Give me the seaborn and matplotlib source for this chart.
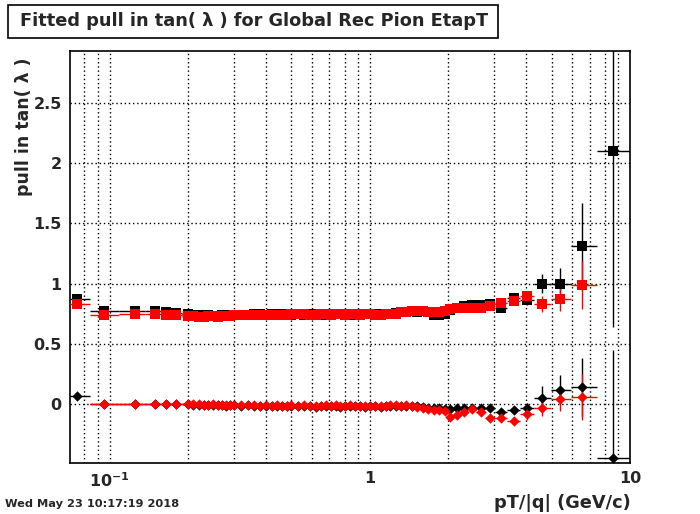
import numpy as np
import matplotlib
matplotlib.use("Agg")
import matplotlib.pyplot as plt
import matplotlib.ticker as mticker
from matplotlib.patches import Rectangle
import seaborn as sns

# pT/|q| bin centres (GeV/c)
pt = [0.075, 0.095, 0.125, 0.15, 0.165, 0.18, 0.2,
      0.21, 0.22, 0.23, 0.24, 0.25, 0.26, 0.27, 0.28, 0.29, 0.30,
      0.32, 0.34, 0.36, 0.38, 0.40, 0.42, 0.44, 0.46, 0.48, 0.50,
      0.53, 0.56, 0.59, 0.62, 0.65, 0.68, 0.71, 0.74, 0.77, 0.80, 0.84, 0.88, 0.92, 0.96, 1.00,
      1.05, 1.10, 1.15, 1.20, 1.26, 1.32, 1.38, 1.45, 1.52, 1.60, 1.68, 1.76, 1.85, 1.94,
      2.03, 2.16, 2.30, 2.47, 2.67, 2.89, 3.19, 3.58, 4.01, 4.59, 5.38, 6.54, 8.6]

# width of the fitted pull (squares)
width_black = [0.87, 0.77, 0.775, 0.77, 0.765, 0.755, 0.745,
               0.74, 0.74, 0.735, 0.735, 0.73, 0.73, 0.735, 0.73, 0.735, 0.735,
               0.74, 0.74, 0.745, 0.745, 0.74, 0.745, 0.74, 0.745, 0.745, 0.74,
               0.745, 0.74, 0.745, 0.745, 0.74, 0.745, 0.745, 0.75, 0.745, 0.745, 0.745, 0.74, 0.745, 0.75, 0.745,
               0.745, 0.75, 0.745, 0.75, 0.755, 0.76, 0.765, 0.77, 0.765, 0.775, 0.76, 0.735, 0.74, 0.745,
               0.78, 0.80, 0.81, 0.82, 0.82, 0.83, 0.80, 0.88, 0.865, 1.00, 0.995, 1.31, 2.10]
width_black_err = [0.01] * 56 + [0.02, 0.02, 0.02, 0.02, 0.025, 0.03, 0.03, 0.035, 0.04, 0.08, 0.13, 0.36, 1.46]

width_red = [0.83, 0.74, 0.745, 0.745, 0.74, 0.735, 0.73,
             0.73, 0.725, 0.725, 0.73, 0.73, 0.725, 0.73, 0.73, 0.73, 0.735,
             0.735, 0.74, 0.74, 0.735, 0.74, 0.74, 0.735, 0.74, 0.74, 0.745,
             0.745, 0.745, 0.74, 0.74, 0.745, 0.745, 0.74, 0.745, 0.745, 0.74, 0.745, 0.745, 0.74, 0.745, 0.745,
             0.74, 0.74, 0.745, 0.745, 0.75, 0.76, 0.765, 0.77, 0.775, 0.77, 0.765, 0.765, 0.765, 0.775,
             0.79, 0.795, 0.80, 0.80, 0.80, 0.81, 0.84, 0.855, 0.90, 0.83, 0.87, 0.985, np.nan]
width_red_err = [0.01] * 56 + [0.02, 0.02, 0.02, 0.02, 0.025, 0.03, 0.03, 0.035, 0.04, 0.07, 0.10, 0.20, 0.0]

# mean of the fitted pull (diamonds)
mean_black = [0.065, 0.0, 0.0, 0.0, 0.0, 0.0, 0.0,
              -0.005, -0.005, -0.01, -0.01, -0.005, -0.01, -0.01, -0.015, -0.01, -0.01,
              -0.015, -0.01, -0.015, -0.02, -0.015, -0.02, -0.015, -0.02, -0.02, -0.015,
              -0.02, -0.015, -0.02, -0.025, -0.02, -0.015, -0.02, -0.02, -0.025, -0.02, -0.015, -0.02, -0.02, -0.025, -0.02,
              -0.02, -0.025, -0.02, -0.02, -0.015, -0.02, -0.02, -0.015, -0.02, -0.025, -0.03, -0.035, -0.03, -0.04,
              -0.045, -0.036, -0.03, -0.035, -0.03, -0.03, -0.07, -0.05, -0.03, 0.05, 0.12, 0.14, -0.45]
mean_black_err = [0.01] * 56 + [0.02, 0.02, 0.02, 0.02, 0.02, 0.025, 0.03, 0.03, 0.04, 0.10, 0.12, 0.24, 0.90]

mean_red = [np.nan, 0.0, 0.0, 0.0, 0.0, 0.0, 0.0,
            0.0, 0.0, -0.005, -0.005, 0.0, -0.005, -0.005, -0.01, -0.005, -0.005,
            -0.01, -0.01, -0.01, -0.015, -0.01, -0.015, -0.01, -0.015, -0.015, -0.01,
            -0.015, -0.01, -0.015, -0.02, -0.015, -0.01, -0.015, -0.01, -0.02, -0.015, -0.01, -0.015, -0.015, -0.02, -0.015,
            -0.015, -0.02, -0.015, -0.01, -0.01, -0.015, -0.01, -0.02, -0.025, -0.03, -0.04, -0.05, -0.05, -0.06,
            -0.105, -0.09, -0.07, -0.045, -0.07, -0.12, -0.12, -0.14, -0.08, -0.03, 0.045, 0.055, np.nan]
mean_red_err = [0.01] * 56 + [0.02, 0.02, 0.02, 0.02, 0.02, 0.025, 0.03, 0.03, 0.05, 0.07, 0.10, 0.19, 0.0]

sns.set_style("white")
plt.rcParams['font.family'] = ['DejaVu Sans']
plt.rcParams['font.weight'] = 'bold'
plt.rcParams['mathtext.fontset'] = 'dejavusans'

x = np.array(pt)
mids = np.sqrt(x[:-1] * x[1:])
lo_edge = np.concatenate([[0.0705], mids])
hi_edge = np.concatenate([mids, [10.0]])
xerr = [x - lo_edge, hi_edge - x]

fig = plt.figure(figsize=(7, 5.14), dpi=100)
ax = fig.add_axes([0.1, 0.0992, 0.8, 0.8016])

series = [
    (width_black, width_black_err, 'black', 's', 48),
    (mean_black, mean_black_err, 'black', 'D', 28),
    (width_red, width_red_err, 'red', 's', 48),
    (mean_red, mean_red_err, 'red', 'D', 28),
]
for vals, errs, col, mk, sz in series:
    ax.errorbar(x, vals, xerr=xerr, yerr=errs, fmt='none', ecolor=col,
                elinewidth=1, capsize=0, zorder=3)
    sns.scatterplot(x=x, y=vals, ax=ax, color=col, marker=mk, s=sz,
                    linewidth=0, zorder=4)

ax.set_xscale('log')
ax.set_xlim(0.0705, 10)
ax.set_ylim(-0.49, 2.93)

ax.xaxis.set_major_locator(mticker.FixedLocator([0.1, 1, 10]))
ax.xaxis.set_major_formatter(mticker.FixedFormatter([r'$\mathbf{10^{-1}}$', '1', '10']))
ax.xaxis.set_minor_locator(mticker.LogLocator(base=10, subs=np.arange(2, 10)))
ax.xaxis.set_minor_formatter(mticker.NullFormatter())
ax.yaxis.set_major_locator(mticker.MultipleLocator(0.5))
ax.yaxis.set_minor_locator(mticker.MultipleLocator(0.1))
ax.yaxis.set_major_formatter(mticker.FuncFormatter(lambda v, p: '%g' % v))

ax.tick_params(which='both', direction='in', top=False, right=False, width=1, color='black')
ax.tick_params(which='major', length=11, labelsize=11.5, pad=6)
ax.tick_params(which='minor', length=5.5)
for lab in ax.get_xticklabels() + ax.get_yticklabels():
    lab.set_fontweight('bold')

ax.grid(which='major', axis='y', color='black', linestyle=(0, (1, 2)), linewidth=1)
ax.grid(which='both', axis='x', color='black', linestyle=(0, (1, 2)), linewidth=1)
for sp in ax.spines.values():
    sp.set_color('black')
    sp.set_linewidth(1.2)

# title box
fig.patches.append(Rectangle((8 / 700, 1 - 38 / 514), 490 / 700, 33 / 514,
                             transform=fig.transFigure, facecolor='white',
                             edgecolor='black', linewidth=1.2))
fig.text(20 / 700, 1 - 21.5 / 514, u'Fitted pull in tan( \u03bb ) for Global Rec Pion EtapT',
         fontsize=12.8, fontweight='bold', ha='left', va='center')

fig.text(24 / 700, 1 - 58 / 514, u'pull in tan( \u03bb )', rotation=90,
         fontsize=12.5, fontweight='bold', ha='center', va='top')
fig.text(631 / 700, 1 - 503 / 514, 'pT/|q| (GeV/c)', fontsize=12.8,
         fontweight='bold', ha='right', va='center')
fig.text(5 / 700, 1 - 504 / 514, 'Wed May 23 10:17:19 2018', fontsize=8.2,
         fontweight='bold', ha='left', va='center')

fig.savefig('out.png', dpi=100)
